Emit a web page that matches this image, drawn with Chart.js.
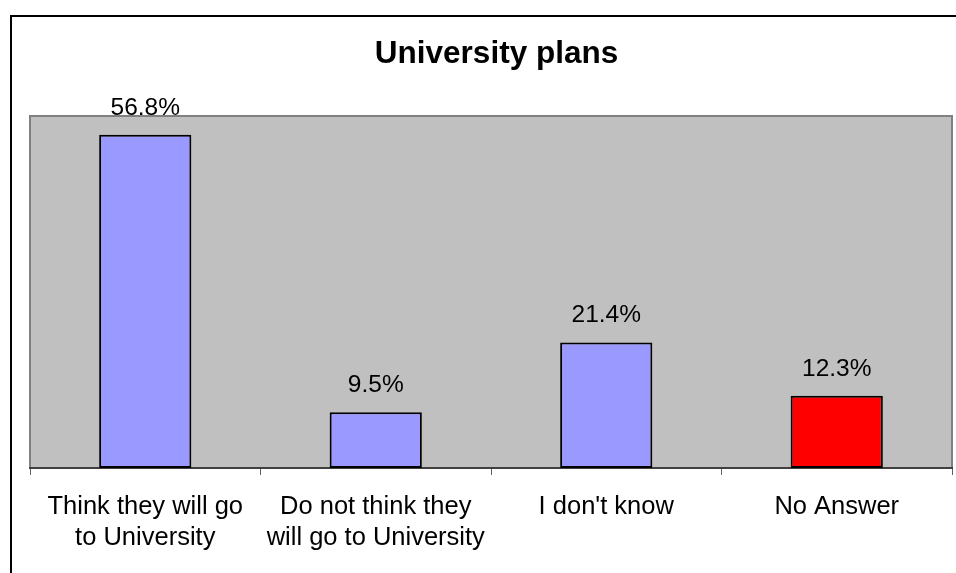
<!DOCTYPE html>
<html>
<head>
<meta charset="utf-8">
<title>University plans</title>
<script src="https://cdn.jsdelivr.net/npm/chart.js@4/dist/chart.umd.min.js"></script>
<style>
    html, body { margin: 0; padding: 0; background: #fff; }
    #chart { display: block; }
</style>
</head>
<body>
<canvas id="chart" width="956" height="573"></canvas>
<script>
// Datos del gráfico
const chartTitle = 'University plans';
const categories = [
    ['Think they will go', 'to University'],
    ['Do not think they', 'will go to University'],
    "I don't know",
    'No Answer'
];
const shares = [56.8, 9.5, 21.4, 12.3];
const barColors = ['#9999FF', '#9999FF', '#9999FF', '#FF0000'];
const axisMin = 0;
const axisMax = 60;

const FONT = "'Liberation Sans', Arial, sans-serif";

// Marco exterior, fondo gris del área de trazado y título
const frameAndTitle = {
    id: 'frameAndTitle',
    beforeDraw(chart) {
        const { ctx, chartArea: a } = chart;
        ctx.save();
        ctx.fillStyle = '#fff';
        ctx.fillRect(0, 0, chart.width, chart.height);
        // marco negro (sale por la derecha y abajo)
        ctx.fillStyle = '#000';
        ctx.fillRect(10, 15, 2, chart.height);
        ctx.fillRect(10, 15, chart.width, 2);
        // área de trazado
        ctx.fillStyle = '#C0C0C0';
        ctx.fillRect(a.left, a.top, a.right - a.left, a.bottom - a.top);
        ctx.strokeStyle = '#808080';
        ctx.lineWidth = 2;
        ctx.strokeRect(a.left, a.top, a.right - a.left, a.bottom - a.top);
        // título
        ctx.fillStyle = '#000';
        ctx.font = `bold 31.5px ${FONT}`;
        ctx.textAlign = 'center';
        ctx.textBaseline = 'middle';
        ctx.fillText(chartTitle, 496.5, 54);
        ctx.restore();
    },
    afterDatasetsDraw(chart) {
        // etiquetas de valor sobre cada barra
        const { ctx } = chart;
        const meta = chart.getDatasetMeta(0);
        ctx.save();
        ctx.fillStyle = '#000';
        ctx.font = `24.5px ${FONT}`;
        ctx.textAlign = 'center';
        ctx.textBaseline = 'alphabetic';
        meta.data.forEach((bar, i) => {
            ctx.fillText(shares[i].toFixed(1) + '%', bar.x, bar.y - 20);
        });
        ctx.restore();
    }
};

new Chart(document.getElementById('chart'), {
    type: 'bar',
    data: {
        labels: categories,
        datasets: [{
            data: shares,
            backgroundColor: barColors,
            borderColor: '#000',
            borderWidth: 2,
            borderSkipped: false,
            categoryPercentage: 1,
            barPercentage: 0.4
        }]
    },
    options: {
        responsive: false,
        animation: false,
        layout: { padding: { top: 116, left: 30, right: 4, bottom: 0 } },
        plugins: {
            legend: { display: false },
            title: { display: false },
            tooltip: { enabled: false }
        },
        scales: {
            x: {
                border: { display: true, color: '#404040', width: 2 },
                grid: {
                    offset: true,
                    drawOnChartArea: false,
                    drawTicks: true,
                    tickLength: 7,
                    color: '#606060',
                    lineWidth: 1
                },
                ticks: {
                    color: '#000',
                    font: { family: FONT, size: 25.5, lineHeight: 1.2 },
                    padding: 17,
                    maxRotation: 0,
                    autoSkip: false
                },
                afterFit(scale) { scale.height = 105; }
            },
            y: {
                display: false,
                min: axisMin,
                max: axisMax
            }
        }
    },
    plugins: [frameAndTitle]
});
</script>
</body>
</html>
